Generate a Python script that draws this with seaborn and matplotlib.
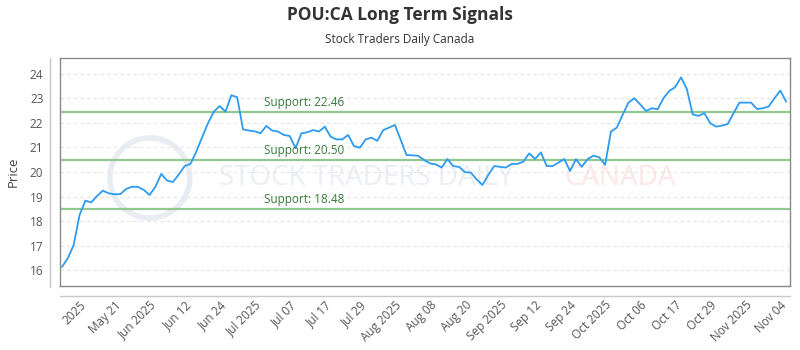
"""POU:CA long term signals chart (Stock Traders Daily style)."""

import matplotlib
matplotlib.use("Agg")
import matplotlib.pyplot as plt
from matplotlib.lines import Line2D
from matplotlib.patches import Ellipse
import numpy as np
import seaborn as sns

# ------------------------------------------------------------------
# Data
# ------------------------------------------------------------------
prices = [
    16.13, 16.48, 17.02, 18.24, 18.83, 18.76, 19.02, 19.24, 19.13, 19.09,
    19.10, 19.31, 19.40, 19.39, 19.27, 19.06, 19.40, 19.92, 19.65, 19.59,
    19.90, 20.24, 20.33, 20.83, 21.42, 21.99, 22.46, 22.69, 22.46, 23.13,
    23.05, 21.74, 21.69, 21.66, 21.58, 21.88, 21.69, 21.65, 21.51, 21.47,
    20.97, 21.58, 21.62, 21.71, 21.65, 21.85, 21.44, 21.33, 21.33, 21.51,
    21.06, 20.99, 21.33, 21.40, 21.27, 21.71, 21.81, 21.92, 21.31, 20.69,
    20.68, 20.66, 20.49, 20.35, 20.31, 20.18, 20.53, 20.24, 20.21, 19.99,
    19.98, 19.70, 19.47, 19.88, 20.24, 20.21, 20.18, 20.33, 20.33, 20.42,
    20.76, 20.53, 20.80, 20.24, 20.24, 20.38, 20.53, 20.04, 20.52, 20.21,
    20.52, 20.67, 20.60, 20.29, 21.65, 21.81, 22.33, 22.83, 23.01, 22.76,
    22.49, 22.60, 22.56, 23.01, 23.31, 23.46, 23.86, 23.38, 22.35, 22.29,
    22.40, 21.99, 21.85, 21.89, 21.96, 22.40, 22.83, 22.83, 22.83, 22.57,
    22.60, 22.67, 23.01, 23.32, 22.87,
]

supports = [22.46, 20.50, 18.48]

tick_labels = [
    "2025", "May 21", "Jun 2025", "Jun 12", "Jun 24", "Jul 2025", "Jul 07",
    "Jul 17", "Jul 29", "Aug 2025", "Aug 08", "Aug 20", "Sep 2025", "Sep 12",
    "Sep 24", "Oct 2025", "Oct 06", "Oct 17", "Oct 29", "Nov 2025", "Nov 04",
]
tick_index = [3, 9, 15, 21, 27, 33, 39, 45, 51, 57, 63, 69, 75, 81, 87,
              93, 99, 105, 111, 117, 123]

y_ticks = [16, 17, 18, 19, 20, 21, 22, 23, 24]

title = "POU:CA Long Term Signals"
subtitle = "Stock Traders Daily Canada"

# ------------------------------------------------------------------
# Styling
# ------------------------------------------------------------------
sns.set_theme(style="white")
plt.rcParams["font.family"] = ["Open Sans", "DejaVu Sans"]

LINE_BLUE = "#2d9bf0"
SUPPORT_GREEN = "#90c890"
SUPPORT_TEXT = "#357a38"
TEXT_GRAY = "#555555"
FRAME = "#8a8a8a"
AXIS_LIGHT = "#c8c8c8"

fig = plt.figure(figsize=(8, 3.5), dpi=100)
ax = fig.add_axes([0.075, 0.1829, 0.9125, 0.6514])

x = np.arange(len(prices))

# watermark (faint, behind everything)
ax.text(0.42, 0.474, "STOCK TRADERS DAILY", transform=ax.transAxes,
        ha="center", va="center", fontsize=20, color="#ebeff5", zorder=0)
ax.text(0.767, 0.474, "CANADA", transform=ax.transAxes,
        ha="center", va="center", fontsize=20, color="#fde6e6", zorder=0)
ax.add_patch(Ellipse((0.123, 0.474), 80 / 730, 80 / 228, transform=ax.transAxes,
                     fill=False, edgecolor="#e8ecf3", lw=4, zorder=0))

# grid
for yv in y_ticks:
    ax.axhline(yv, color="#e4e4e4", lw=0.8, ls=(0, (3, 3)), zorder=0.5)

# support levels
for s in supports:
    ax.axhline(s, color=SUPPORT_GREEN, lw=1.6, zorder=1)
    ax.text(0.279, s + 0.12, f"Support: {s:.2f}", transform=ax.get_yaxis_transform(),
            ha="left", va="bottom", fontsize=8.5, color=SUPPORT_TEXT, zorder=3)

# price line
sns.lineplot(x=x, y=prices, ax=ax, color=LINE_BLUE, lw=1.3, zorder=2)

ax.set_xlim(-0.34, 124.66)
ax.set_ylim(15.35, 24.65)

ax.set_yticks(y_ticks)
ax.set_yticklabels([str(v) for v in y_ticks], fontsize=8.5, color=TEXT_GRAY)
ax.set_xticks(tick_index)
ax.set_xticklabels(tick_labels, rotation=45, ha="right", va="top",
                   rotation_mode="anchor", fontsize=8.5, color=TEXT_GRAY)
ax.tick_params(axis="y", length=0, pad=12)
ax.tick_params(axis="x", length=0, pad=9)
ax.set_ylabel("Price", fontsize=9.5, color="#444444", labelpad=7)
ax.set_xlabel("")
ax.grid(False)

for sp in ax.spines.values():
    sp.set_color(FRAME)
    sp.set_linewidth(1.0)

# offset axis lines (outside the plot frame)
W, H = 800, 350
fig.add_artist(Line2D([50 / W, 50 / W], [1 - 58 / H, 1 - 287 / H],
                      color=AXIS_LIGHT, lw=1.0))
fig.add_artist(Line2D([60 / W, 790 / W], [1 - 296 / H, 1 - 296 / H],
                      color=AXIS_LIGHT, lw=1.0))

fig.text(0.5, 1 - 15 / H, title, ha="center", va="center", fontsize=12.5,
         fontweight="bold", color="#333333")
fig.text(0.5, 1 - 40 / H, subtitle, ha="center", va="center", fontsize=8.5,
         color="#333333")

fig.savefig("out.png", dpi=100)
